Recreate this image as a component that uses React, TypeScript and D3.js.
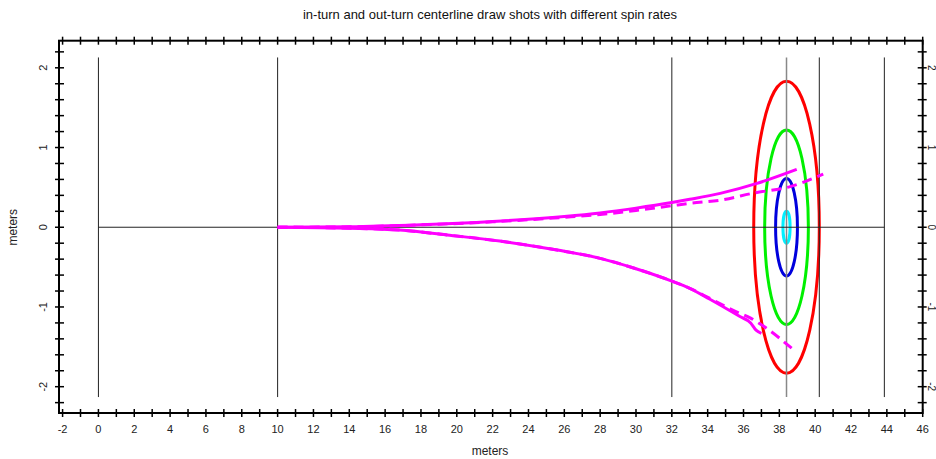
import React from "react";
import * as d3 from "d3";

const title = "in-turn and out-turn centerline draw shots with different spin rates";

// sheet markings (x positions in meters)
const sheetLines = [0, 10, 32, 40.23, 43.86];
const teeLine = 38.4;
const sheetHalfWidth = 2.13;

// house rings
const ringRadii = [1.83, 1.22, 0.61, 0.2];
const ringColors = ["#ff0000", "#00f000", "#0000dd", "#00f0ff"];

// shot paths [x, y]
const inTurnSolid: [number, number][] = [
  [10, 0], [14, 0.005], [18, 0.03], [22, 0.072], [26, 0.135], [28, 0.18],
  [30, 0.24], [32, 0.31], [33, 0.35], [34.7, 0.425], [36.75, 0.55], [38.97, 0.726],
];
const inTurnDashed: [number, number][] = [
  [10, 0], [14, 0.005], [18, 0.03], [22, 0.068], [26, 0.125], [28, 0.16],
  [30, 0.21], [32, 0.27], [33, 0.3], [34.7, 0.34], [36.6, 0.43], [38.6, 0.51], [40.45, 0.667],
];
const outTurnSolid: [number, number][] = [
  [10, 0], [14, -0.012], [16.8, -0.035], [19.6, -0.1], [22.4, -0.173], [25.6, -0.286],
  [28, -0.39], [30, -0.52], [32, -0.675], [33, -0.766], [34.1, -0.9], [35.8, -1.12],
  [36.4, -1.2], [36.7, -1.29], [37, -1.33],
];
const outTurnDashed: [number, number][] = [
  [10, 0], [14, -0.012], [16.8, -0.035], [19.6, -0.1], [22.4, -0.173], [25.6, -0.286],
  [28, -0.39], [30, -0.52], [32, -0.675], [33, -0.766], [34.1, -0.89], [35.4, -1.04],
  [36.4, -1.14], [37.3, -1.27], [38.7, -1.52],
];

const xMajor = d3.range(-2, 47, 2);
const xMinor = d3.range(-2, 47, 1);
const yMajor = [-2, -1, 0, 1, 2];
const yMinor = d3.range(-22, 23, 2).map(v => v / 10);

const W = 936;
const H = 459;

export default function App() {
  const x = d3.scaleLinear().domain([-2.2, 46]).range([59, 922.7]);
  const y = d3.scaleLinear().domain([-2.33, 2.34]).range([413, 40.7]);
  const line = d3
    .line<[number, number]>()
    .x(d => x(d[0]))
    .y(d => y(d[1]))
    .curve(d3.curveMonotoneX);

  const left = x.range()[0];
  const right = x.range()[1];
  const top = y.range()[1];
  const bottom = y.range()[0];
  const font = "Liberation Sans, Arial, sans-serif";
  const cx = x(teeLine);
  const cy = y(0);
  const kx = x(1) - x(0);
  const ky = y(0) - y(1);

  return (
    <svg width={W} height={H} style={{ position: "absolute", left: 0, top: 0 }} fontFamily={font}>
      <rect width={W} height={H} fill="#fff" />
      <text x={490} y={19} textAnchor="middle" fontSize={13} fill="#111">{title}</text>

      {ringRadii.map((r, i) => (
        <ellipse key={i} cx={cx} cy={cy} rx={r * kx} ry={r * ky} fill="none"
          stroke={ringColors[i]} strokeWidth={3} />
      ))}

      {sheetLines.map(v => (
        <line key={v} x1={x(v)} x2={x(v)} y1={y(sheetHalfWidth)} y2={y(-sheetHalfWidth)}
          stroke="#222" strokeWidth={1} />
      ))}
      <line x1={cx} x2={cx} y1={y(sheetHalfWidth)} y2={y(-sheetHalfWidth)} stroke="#888" strokeWidth={1.5} />
      <line x1={x(0)} x2={x(43.86)} y1={cy} y2={cy} stroke="#222" strokeWidth={1} />

      <path d={line(inTurnSolid) ?? ""} fill="none" stroke="#ff00ff" strokeWidth={3} />
      <path d={line(outTurnSolid) ?? ""} fill="none" stroke="#ff00ff" strokeWidth={3} />
      <path d={line(inTurnDashed) ?? ""} fill="none" stroke="#ff00ff" strokeWidth={3} strokeDasharray="10,6" />
      <path d={line(outTurnDashed) ?? ""} fill="none" stroke="#ff00ff" strokeWidth={3} strokeDasharray="10,6" />

      {/* frame */}
      <rect x={left} y={top} width={right - left} height={bottom - top} fill="none" stroke="#000" strokeWidth={2} />

      {xMinor.map(v => (
        <g key={"xt" + v}>
          <line x1={x(v)} x2={x(v)} y1={bottom - 4} y2={bottom + 4} stroke="#000" strokeWidth={1.5} />
          <line x1={x(v)} x2={x(v)} y1={top - 4} y2={top + 4} stroke="#000" strokeWidth={1.5} />
        </g>
      ))}
      {xMajor.map(v => (
        <text key={"xl" + v} x={x(v)} y={bottom + 20} textAnchor="middle" fontSize={11} fill="#222">{v}</text>
      ))}

      {yMinor.map(v => (
        <g key={"yt" + v}>
          <line x1={left - 4} x2={left + 5} y1={y(v)} y2={y(v)} stroke="#000" strokeWidth={1.5} />
          <line x1={right - 5} x2={right + 4} y1={y(v)} y2={y(v)} stroke="#000" strokeWidth={1.5} />
        </g>
      ))}
      {yMajor.map(v => (
        <g key={"yl" + v}>
          <text transform={`translate(${left - 12},${y(v)}) rotate(-90)`} textAnchor="middle" fontSize={11} fill="#222">{v}</text>
          <text transform={`translate(${right + 5},${y(v)}) rotate(90)`} textAnchor="middle" fontSize={10} fill="#222">{v}</text>
        </g>
      ))}

      <text x={490} y={455} textAnchor="middle" fontSize={12} fill="#222">meters</text>
      <text transform={`translate(17,${cy}) rotate(-90)`} textAnchor="middle" fontSize={12} fill="#222">meters</text>
    </svg>
  );
}
